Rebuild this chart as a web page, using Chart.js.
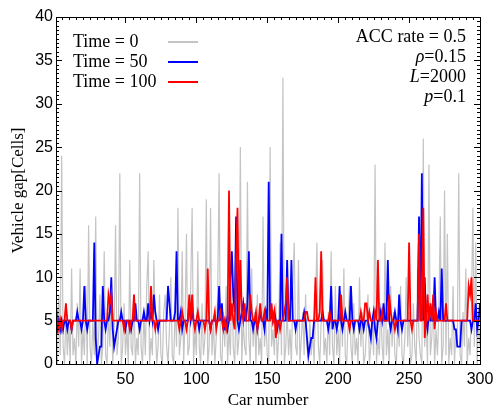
<!DOCTYPE html>
<html>
<head>
<meta charset="utf-8">
<script src="https://cdn.jsdelivr.net/npm/chart.js@4.4.0/dist/chart.umd.min.js"></script>
<style>
  html, body { margin: 0; padding: 0; background: #fff; }
  #wrap { width: 494px; height: 408px; position: relative; }
</style>
</head>
<body>
<div id="wrap"><canvas id="c"></canvas></div>
<script>
// Datos (gap de cada coche, 300 coches)
const seriesLabels = ['Time = 0', 'Time = 50', 'Time = 100'];
const seriesColors = ['#c4c4c4', '#0000ff', '#ff0000'];
const xTicks = [50, 100, 150, 200, 250, 300];
const yTicks = [0, 5, 10, 15, 20, 25, 30, 35, 40];

const gapT0 = [
  3,0,8,1,24,2,0,6,1,5,
  0,11,1,3,0,7,2,11,0,4,
  1,9,0,16,2,0,5,1,17,0,
  3,8,0,2,13,1,0,6,2,9,
  0,4,16,1,3,22,0,2,7,1,
  4,0,12,2,1,8,0,3,1,22,
  2,0,6,1,9,13,0,3,1,12,
  5,0,2,8,1,0,6,8,2,0,
  4,10,1,0,7,2,18,1,3,13,
  0,5,15,1,2,9,18,0,4,1,
  13,2,0,7,1,3,19,0,2,18,
  1,5,0,3,8,22,1,0,6,2,
  9,0,4,1,11,2,0,7,1,3,
  25,0,5,2,1,21,3,0,11,2,
  6,0,8,1,3,0,17,2,5,1,
  0,25,2,4,1,7,0,3,14,1,
  33,0,2,6,1,4,0,9,14,2,
  1,12,0,3,6,1,8,2,0,5,
  1,4,0,7,14,2,0,5,12,1,
  3,0,6,1,13,2,0,9,1,4,
  0,8,2,11,1,0,5,9,2,0,
  7,1,3,0,10,2,6,0,1,4,
  8,0,2,5,1,23,0,3,1,7,
  2,0,14,1,4,0,9,2,6,1,
  0,5,2,9,1,0,3,10,2,6,
  0,1,7,2,0,11,3,1,0,26,
  2,5,0,23,1,3,8,0,4,1,
  6,17,0,2,20,1,15,0,3,1,
  9,0,4,2,22,1,0,6,2,11,
  0,3,1,7,18,2,14,0,5,2
];

const gapT50 = [
  5,4,5,4,5,4,5,5,4,5,
  5,4,5,5,5,6,5,5,4,5,
  9,5,4,5,5,5,5,14,3,0,
  1,2,2,9,5,4,5,5,6,10,
  4,2,3,4,5,5,6,5,5,4,
  5,5,5,4,5,5,7,5,5,4,
  5,5,6,5,5,7,5,6,5,8,
  6,5,4,5,5,5,5,5,5,9,
  7,5,5,5,6,13,5,5,6,4,
  5,5,5,5,7,5,6,5,5,5,
  5,4,5,5,5,5,5,5,5,4,
  5,5,5,5,5,9,5,7,4,4,
  5,4,5,10,13,8,6,17,5,4,
  5,6,7,5,5,7,13,5,5,4,
  5,5,4,5,6,5,5,4,6,5,
  21,5,6,5,6,5,4,5,5,15,
  5,5,5,12,5,5,12,5,5,4,
  5,5,5,5,5,6,5,3,1,2,
  3,3,5,5,5,5,5,5,6,5,
  5,5,4,5,9,4,5,5,4,5,
  9,5,4,5,6,5,5,5,9,5,
  4,5,5,5,4,5,5,4,5,5,
  5,4,3,5,6,4,3,5,5,6,
  5,7,5,5,12,5,4,5,5,6,
  5,4,8,5,4,5,5,5,5,5,
  5,5,5,5,5,5,17,5,22,5,
  10,5,4,6,5,5,5,10,5,5,
  6,5,11,5,5,5,5,5,5,5,
  5,4,4,2,2,2,5,5,5,5,
  5,5,5,4,5,5,7,4,5,7
];

const gapT100 = [
  7,5,4,5,4,5,5,7,5,5,
  5,4,5,5,5,5,5,5,5,5,
  5,5,5,5,5,5,5,5,5,5,
  5,5,5,5,5,5,5,8,7,8,
  5,5,5,5,5,5,5,5,4,5,
  5,5,4,5,5,8,5,5,5,5,
  5,5,5,5,5,5,5,9,5,5,
  4,5,5,5,5,5,5,5,5,5,
  5,5,5,5,5,5,5,4,5,6,
  5,5,4,5,8,5,8,5,4,5,
  6,5,5,5,5,4,5,11,5,4,
  5,5,6,4,5,5,6,5,4,5,
  4,5,20,5,7,5,4,12,18,5,
  12,6,5,7,5,5,5,8,6,5,
  5,6,4,5,7,5,5,6,5,5,
  5,5,7,5,6,3,5,5,4,5,
  5,6,7,10,5,5,5,5,5,5,
  5,5,5,5,5,5,6,6,5,5,
  5,5,5,10,5,5,6,13,5,5,
  5,5,5,6,5,5,5,5,5,5,
  5,8,5,5,5,5,5,4,5,5,
  5,5,5,5,5,6,5,5,7,7,
  5,6,5,5,5,6,5,12,5,5,
  6,5,5,5,5,8,6,5,5,4,
  5,5,5,5,5,5,5,5,5,14,
  5,4,5,5,5,5,15,5,5,18,
  3,5,8,5,7,5,8,4,6,5,
  5,5,5,5,5,7,5,5,5,5,
  5,5,5,5,5,5,5,5,5,5,
  5,9,8,10,5,5,5,5,5,5
];

const allGaps = [gapT0, gapT50, gapT100];

// Pasamos cada serie a puntos {x, y} con el número de coche
const toPoints = arr => arr.map((v, i) => ({ x: i + 1, y: v }));

const SERIF = '"Liberation Serif", "DejaVu Serif", serif';
const SANS = '"Liberation Sans", Arial, sans-serif';

// Marco + marcas interiores en los cuatro lados
const framePlugin = {
  id: 'frame',
  afterDraw(chart) {
    const { ctx, chartArea: a, scales } = chart;
    const xs = scales.x, ys = scales.y;
    ctx.save();
    ctx.strokeStyle = '#000';
    ctx.lineWidth = 1;
    ctx.strokeRect(a.left + 0.5, a.top + 0.5, a.right - a.left, a.bottom - a.top);
    ctx.beginPath();
    for (let v = 5; v <= 300; v += 5) {
      const px = Math.round(xs.getPixelForValue(v)) + 0.5;
      const len = v % 50 === 0 ? 6 : 3;
      ctx.moveTo(px, a.bottom); ctx.lineTo(px, a.bottom - len);
      ctx.moveTo(px, a.top); ctx.lineTo(px, a.top + len);
    }
    for (let v = 0; v <= 40; v += 0.5) {
      const py = Math.round(ys.getPixelForValue(v)) + 0.5;
      const len = v % 5 === 0 ? 6 : 3;
      ctx.moveTo(a.left, py); ctx.lineTo(a.left + len, py);
      ctx.moveTo(a.right, py); ctx.lineTo(a.right - len, py);
    }
    ctx.stroke();

    // Leyenda
    ctx.font = '18px ' + SERIF;
    ctx.textBaseline = 'middle';
    ctx.textAlign = 'left';
    chart.data.datasets.forEach((ds, i) => {
      const y = 42 + i * 20;
      ctx.fillStyle = '#000';
      ctx.fillText(ds.label, 73, y);
      ctx.strokeStyle = ds.borderColor;
      ctx.lineWidth = 2;
      ctx.beginPath();
      ctx.moveTo(168, y); ctx.lineTo(198, y);
      ctx.stroke();
    });

    // Parámetros arriba a la derecha
    const right = 466;
    const drawParam = (italic, rest, y) => {
      ctx.textAlign = 'left';
      ctx.font = '18px ' + SERIF;
      const wRest = ctx.measureText(rest).width;
      ctx.fillText(rest, right - wRest, y);
      if (italic) {
        ctx.font = 'italic 18px ' + SERIF;
        const wIt = ctx.measureText(italic).width;
        ctx.fillText(italic, right - wRest - wIt, y);
      }
    };
    ctx.fillStyle = '#000';
    drawParam('', 'ACC rate = 0.5', 37);
    drawParam('ρ', '=0.15', 57);
    drawParam('L', '=2000', 77);
    drawParam('p', '=0.1', 97);
    ctx.restore();
  }
};

new Chart(document.getElementById('c'), {
  type: 'line',
  data: {
    datasets: allGaps.map((arr, i) => ({
      label: seriesLabels[i],
      data: toPoints(arr),
      borderColor: seriesColors[i],
      borderWidth: i === 0 ? 1.2 : 1.8,
      pointRadius: 0,
      tension: 0,
      order: 3 - i
    }))
  },
  options: {
    responsive: true,
    maintainAspectRatio: false,
    animation: false,
    layout: { padding: { left: 0, right: 14, top: 17, bottom: 0 } },
    plugins: { legend: { display: false }, tooltip: { enabled: false } },
    scales: {
      x: {
        type: 'linear', min: 1, max: 300,
        grid: { display: false, drawTicks: false }, border: { display: false },
        afterBuildTicks: s => { s.ticks = xTicks.map(v => ({ value: v })); },
        afterFit: s => { s.height = 44; s.paddingRight = 0; },
        ticks: { color: '#000', font: { family: SANS, size: 16 }, padding: 6, maxRotation: 0 },
        title: { display: true, text: 'Car number', color: '#000', font: { family: SERIF, size: 17 }, padding: { top: 0, bottom: -3 } }
      },
      y: {
        min: 0, max: 40,
        grid: { display: false, drawTicks: false }, border: { display: false },
        afterBuildTicks: s => { s.ticks = yTicks.map(v => ({ value: v })); },
        afterFit: s => { s.width = 56; },
        ticks: { color: '#000', font: { family: SANS, size: 16 }, padding: 3 },
        title: { display: true, text: 'Vehicle gap[Cells]', color: '#000', font: { family: SERIF, size: 17 }, padding: { top: 8, bottom: 0 } }
      }
    }
  },
  plugins: [framePlugin]
});
</script>
</body>
</html>
